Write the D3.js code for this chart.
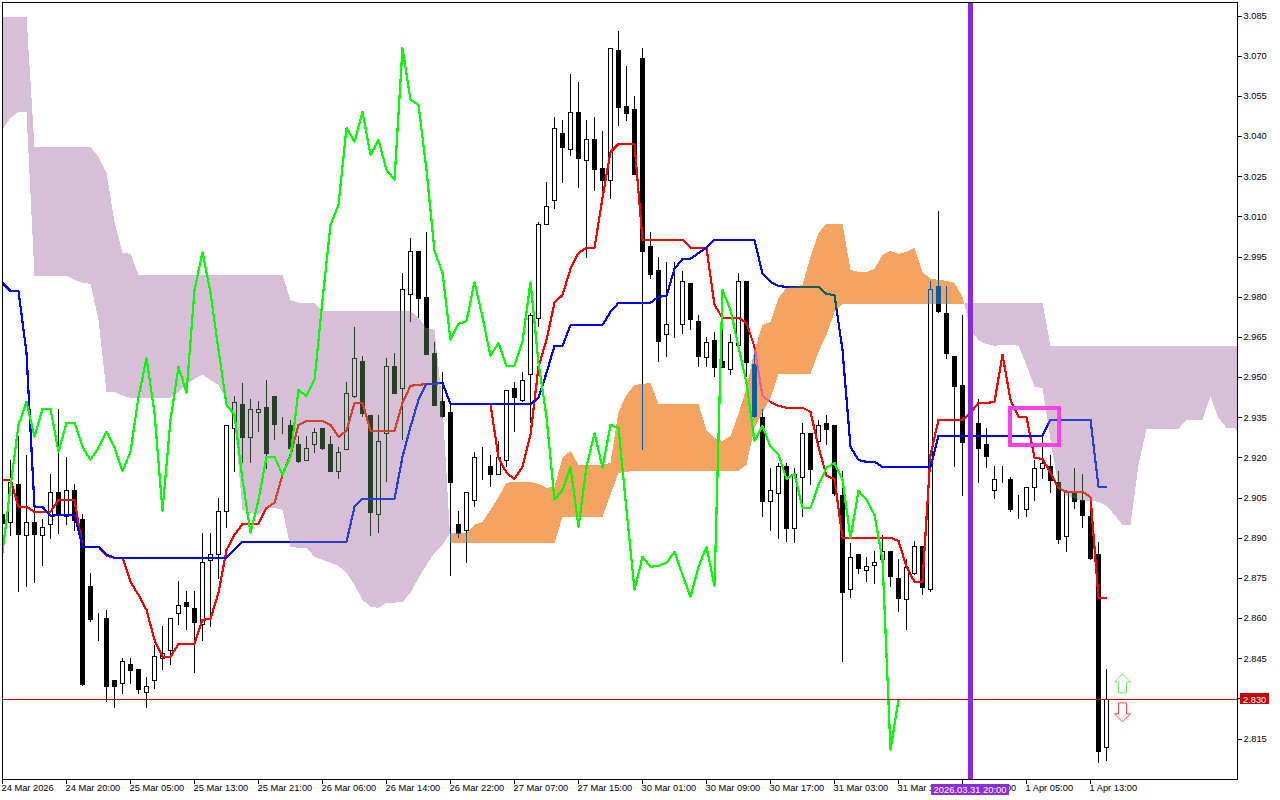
<!DOCTYPE html>
<html>
<head>
<meta charset="utf-8">
<title>Ichimoku candlestick chart</title>
<script src="https://cdn.jsdelivr.net/npm/d3@7"></script>
<style>
html,body{margin:0;padding:0;background:#fff}
svg{display:block}
text{font-family:"Liberation Sans",Arial,sans-serif;font-size:9.3px;fill:#000}
</style>
</head>
<body>
<div id="chart"></div>
<script>
const opens=[2.8991,2.8961,2.9103,2.8912,2.8961,2.8912,2.8953,2.9073,2.8983,2.9080,
2.8972,2.8722,2.8591,2.8602,2.8371,2.8360,2.8431,2.8412,2.8326,2.8371,
2.8453,2.8483,2.8621,2.8662,2.8640,2.8580,2.8819,2.8841,2.9002,2.9312,
2.9401,2.9278,2.9372,2.9390,2.9431,2.9331,2.9323,2.9252,2.9192,2.9252,
2.9312,2.9252,2.9151,2.9233,2.9431,2.9562,2.9361,2.8991,2.9293,2.9543,
2.9461,2.9812,2.9973,2.9801,2.9592,2.9413,2.9372,2.8953,2.8931,2.9043,
2.9204,2.9170,2.9140,2.9192,2.9461,2.9416,2.9513,2.9723,3.0074,3.0163,
3.0413,3.0354,3.0492,3.0313,3.0391,3.0283,3.0238,3.0723,3.0514,3.0503,
3.0693,2.9992,2.9902,2.9663,2.9711,2.9700,2.9853,2.9711,2.9577,2.9640,
2.9562,2.9532,2.9622,2.9861,2.9551,2.9353,2.9039,2.9069,2.9170,2.8938,
2.9129,2.9293,2.9263,2.9331,2.9323,2.9062,2.8711,2.8841,2.8782,2.8800,
2.8823,2.8853,2.8752,2.8673,2.8770,2.8871,2.8711,2.9842,2.9741,2.9581,
2.9472,2.9260,2.9331,2.9252,2.9080,2.9140,2.9121,2.9013,2.9009,2.9092,
2.9163,2.9170,2.9110,2.8909,2.9073,2.9043,2.8983,2.8841,2.8121];
const closes=[2.8957,2.9110,2.8916,2.8961,2.8916,2.8942,2.9073,2.8987,2.9080,2.8968,
2.8356,2.8599,2.8591,2.8349,2.8349,2.8442,2.8408,2.8337,2.8349,2.8461,
2.8472,2.8602,2.8651,2.8647,2.8587,2.8811,2.8841,2.9002,2.9323,2.9409,
2.9278,2.9383,2.9383,2.9218,2.9327,2.9331,2.9237,2.9189,2.9237,2.9297,
2.9237,2.9151,2.9222,2.9443,2.9573,2.9368,2.8998,2.9263,2.9543,2.9443,
2.9831,2.9973,2.9797,2.9588,2.9398,2.9357,2.9110,2.8920,2.9073,2.9204,
2.9204,2.9140,2.9204,2.9454,2.9428,2.9491,2.9734,3.0074,3.0141,3.0432,
3.0361,3.0492,3.0320,3.0391,3.0279,3.0238,3.0731,3.0510,3.0488,3.0260,
2.9973,2.9887,2.9637,2.9700,2.9711,2.9861,2.9719,2.9581,2.9633,2.9540,
2.9540,2.9633,2.9861,2.9558,2.9357,2.9039,2.9080,2.9170,2.8938,2.9140,
2.9293,2.9159,2.9323,2.9308,2.9069,2.8700,2.8830,2.8789,2.8797,2.8811,
2.8853,2.8759,2.8677,2.8793,2.8871,2.8718,2.9831,2.9749,2.9592,2.9469,
2.9260,2.9331,2.9237,2.9207,2.9121,2.9140,2.9009,2.9013,2.9092,2.9163,
2.9181,2.9118,2.8897,2.9077,2.9039,2.8987,2.8826,2.8106,2.8300];
const highs=[2.9006,2.9192,2.9282,2.9211,2.9043,2.8972,2.9140,2.9383,2.9204,2.9103,
2.8991,2.8770,2.8621,2.8632,2.8371,2.8453,2.8453,2.8412,2.8382,2.8502,
2.8572,2.8602,2.8740,2.8703,2.8703,2.8920,2.8920,2.9050,2.9323,2.9431,
2.9480,2.9420,2.9413,2.9491,2.9431,2.9353,2.9342,2.9282,2.9282,2.9312,
2.9312,2.9282,2.9241,2.9484,2.9689,2.9581,2.9361,2.9361,2.9573,2.9592,
2.9891,3.0022,2.9973,3.0044,2.9633,2.9521,2.9405,2.9002,2.9073,2.9222,
2.9241,2.9211,2.9263,2.9454,2.9484,2.9521,2.9741,3.0081,3.0231,3.0473,
3.0462,3.0634,3.0604,3.0462,3.0473,3.0421,3.0731,3.0794,3.0664,3.0552,
3.0731,3.0044,2.9950,2.9932,2.9932,2.9898,2.9853,2.9734,2.9652,2.9670,
2.9689,2.9663,2.9891,2.9861,2.9596,2.9383,2.9163,2.9181,2.9181,2.9163,
2.9331,2.9293,2.9342,2.9361,2.9323,2.9151,2.8882,2.8841,2.8830,2.8853,
2.8912,2.8853,2.8823,2.8823,2.8890,2.8871,2.9861,3.0122,2.9842,2.9581,
2.9734,2.9361,2.9420,2.9312,2.9170,2.9170,2.9129,2.9062,2.9092,2.9192,
2.9286,2.9211,2.9151,2.9080,2.9163,2.9140,2.9009,2.8886,2.8412];
const lows=[2.8938,2.8909,2.8700,2.8718,2.8733,2.8797,2.8897,2.8916,2.8950,2.8927,
2.8349,2.8587,2.8517,2.8289,2.8266,2.8319,2.8356,2.8319,2.8266,2.8337,
2.8408,2.8427,2.8576,2.8558,2.8397,2.8517,2.8569,2.8748,2.8938,2.9148,
2.9181,2.9181,2.9297,2.9159,2.9267,2.9290,2.9233,2.9181,2.9189,2.9218,
2.9230,2.9148,2.9121,2.9233,2.9424,2.9353,2.8909,2.8920,2.9110,2.9439,
2.9267,2.9708,2.9723,2.9585,2.9394,2.9349,2.8759,2.8901,2.8808,2.9017,
2.9118,2.9092,2.9140,2.9166,2.9297,2.9409,2.9331,2.9689,3.0074,3.0130,
3.0227,3.0328,3.0208,2.9947,3.0197,3.0189,3.0167,3.0440,3.0458,3.0257,
2.9230,2.9868,2.9558,2.9577,2.9648,2.9663,2.9678,2.9540,2.9540,2.9502,
2.9540,2.9510,2.9622,2.9502,2.9349,2.8979,2.8927,2.8897,2.8886,2.8882,
2.8979,2.9099,2.9260,2.9248,2.9058,2.8438,2.8677,2.8767,2.8737,2.8729,
2.8823,2.8718,2.8625,2.8558,2.8763,2.8688,2.8700,2.9741,2.9570,2.9166,
2.9058,2.9230,2.9107,2.9163,2.9047,2.9107,2.8998,2.8972,2.8979,2.9039,
2.9121,2.9069,2.8879,2.8849,2.9009,2.8938,2.8819,2.8061,2.8068];
const tenkan=[2.9118,2.9118,2.9017,2.9017,2.8998,2.8998,2.8998,2.9043,2.9043,2.9043,
2.8868,2.8868,2.8868,2.8834,2.8827,2.8827,2.8737,2.8688,2.8632,2.8520,
2.8457,2.8457,2.8505,2.8505,2.8505,2.8595,2.8599,2.8696,2.8856,2.8912,
2.8953,2.8953,2.8953,2.9013,2.9032,2.9137,2.9211,2.9323,2.9338,2.9338,
2.9338,2.9323,2.9278,2.9301,2.9405,2.9405,2.9301,2.9301,2.9301,2.9301,
2.9405,2.9469,2.9472,2.9476,2.9476,2.9480,2.9401,2.9401,2.9401,2.9401,
2.9401,2.9401,2.9200,2.9144,2.9121,2.9166,2.9286,2.9540,2.9640,2.9779,
2.9808,2.9906,2.9965,2.9984,2.9984,3.0171,3.0342,3.0372,3.0372,3.0372,
3.0014,3.0014,3.0014,3.0014,3.0014,3.0014,2.9984,2.9984,2.9984,2.9771,
2.9723,2.9723,2.9723,2.9704,2.9614,2.9431,2.9409,2.9394,2.9387,2.9387,
2.9387,2.9372,2.9241,2.9133,2.9121,2.8901,2.8901,2.8901,2.8901,2.8901,
2.8901,2.8901,2.8890,2.8793,2.8737,2.8737,2.9211,2.9342,2.9342,2.9342,
2.9342,2.9368,2.9405,2.9405,2.9409,2.9585,2.9416,2.9353,2.9353,2.9200,
2.9196,2.9144,2.9088,2.9073,2.9073,2.9073,2.9054,2.8677,2.8677];
const kijun=[2.9853,2.9823,2.9823,2.9592,2.9017,2.9017,2.8983,2.8987,2.8987,2.8987,
2.8868,2.8868,2.8868,2.8838,2.8827,2.8827,2.8827,2.8827,2.8827,2.8827,
2.8827,2.8827,2.8827,2.8827,2.8827,2.8827,2.8827,2.8827,2.8827,2.8856,
2.8886,2.8886,2.8886,2.8886,2.8886,2.8886,2.8886,2.8886,2.8886,2.8886,
2.8886,2.8886,2.8886,2.8886,2.9017,2.9047,2.9047,2.9047,2.9047,2.9047,
2.9204,2.9316,2.9416,2.9476,2.9476,2.9480,2.9401,2.9401,2.9401,2.9401,
2.9401,2.9401,2.9401,2.9401,2.9401,2.9401,2.9401,2.9424,2.9517,2.9618,
2.9618,2.9696,2.9696,2.9696,2.9696,2.9696,2.9745,2.9779,2.9779,2.9779,
2.9779,2.9779,2.9801,2.9805,2.9906,2.9943,2.9943,2.9965,2.9984,3.0014,
3.0014,3.0014,3.0014,3.0014,3.0014,2.9887,2.9857,2.9842,2.9838,2.9838,
2.9838,2.9838,2.9838,2.9812,2.9808,2.9603,2.9241,2.9192,2.9185,2.9185,
2.9166,2.9166,2.9166,2.9166,2.9166,2.9166,2.9166,2.9282,2.9282,2.9282,
2.9282,2.9282,2.9282,2.9282,2.9282,2.9282,2.9282,2.9282,2.9282,2.9282,
2.9282,2.9342,2.9342,2.9342,2.9342,2.9342,2.9342,2.9092,2.9092];
const chikou=[2.8845,2.9092,2.9323,2.9409,2.9278,2.9383,2.9383,2.9222,2.9331,2.9331,
2.9241,2.9192,2.9237,2.9297,2.9237,2.9151,2.9222,2.9428,2.9573,2.9368,
2.9002,2.9342,2.9540,2.9443,2.9827,2.9969,2.9816,2.9603,2.9398,2.9361,
2.9118,2.8920,2.9043,2.9204,2.9204,2.9137,2.9204,2.9454,2.9431,2.9491,
2.9790,3.0070,3.0145,3.0432,3.0380,3.0492,3.0331,3.0387,3.0275,3.0238,
3.0731,3.0537,3.0518,3.0275,2.9973,2.9891,2.9640,2.9700,2.9711,2.9857,
2.9726,2.9581,2.9629,2.9543,2.9543,2.9633,2.9857,2.9555,2.9353,2.9043,
2.9080,2.9166,2.8942,2.9166,2.9293,2.9163,2.9323,2.9312,2.9006,2.8707,
2.8830,2.8793,2.8797,2.8808,2.8849,2.8763,2.8681,2.8793,2.8867,2.8722,
2.9827,2.9752,2.9614,2.9480,2.9263,2.9319,2.9241,2.9211,2.9121,2.9140,
2.9013,2.9013,2.9099,2.9163,2.9181,2.9118,2.8901,2.9077,2.9043,2.8987,
2.8819,2.8110,2.8296];
const spanA=[3.0425,3.0469,3.0492,3.0492,2.9879,2.9879,2.9879,2.9879,2.9879,2.9865,
2.9853,2.9850,2.9715,2.9446,2.9446,2.9431,2.9424,2.9424,2.9424,2.9424,
2.9424,2.9424,2.9446,2.9472,2.9495,2.9510,2.9491,2.9472,2.9416,2.9331,
2.9006,2.8994,2.8987,2.9013,2.9013,2.9006,2.8868,2.8864,2.8864,2.8830,
2.8819,2.8808,2.8797,2.8770,2.8726,2.8670,2.8643,2.8640,2.8659,2.8659,
2.8662,2.8696,2.8752,2.8800,2.8845,2.8875,2.8920,2.8920,2.8920,2.8950,
2.8961,2.9006,2.9054,2.9107,2.9110,2.9110,2.9110,2.9103,2.9088,2.9092,
2.9200,2.9226,2.9174,2.9174,2.9174,2.9174,2.9181,2.9372,2.9435,2.9472,
2.9476,2.9480,2.9401,2.9401,2.9401,2.9401,2.9401,2.9401,2.9304,2.9274,
2.9263,2.9282,2.9364,2.9461,2.9603,2.9696,2.9708,2.9797,2.9835,2.9838,
2.9846,2.9950,3.0040,3.0074,3.0074,3.0074,2.9902,2.9894,2.9894,2.9906,
2.9958,2.9973,2.9962,2.9969,2.9984,2.9894,2.9868,2.9865,2.9861,2.9853,
2.9801,2.9678,2.9640,2.9625,2.9618,2.9622,2.9622,2.9618,2.9547,2.9465,
2.9461,2.9267,2.9092,2.9058,2.9047,2.9039,2.9039,2.9036,2.9021,2.8987,
2.8950,2.8950,2.9174,2.9308,2.9308,2.9308,2.9308,2.9308,2.9342,2.9342,
2.9342,2.9428,2.9349,2.9312,2.9312,2.9267];
const spanB=[3.0847,3.0847,3.0847,3.0847,3.0361,3.0361,3.0361,3.0361,3.0361,3.0361,
3.0361,3.0361,3.0324,3.0264,3.0081,2.9965,2.9962,2.9883,2.9883,2.9883,
2.9883,2.9883,2.9883,2.9883,2.9883,2.9883,2.9883,2.9883,2.9883,2.9883,
2.9883,2.9883,2.9883,2.9883,2.9883,2.9883,2.9790,2.9779,2.9779,2.9779,
2.9749,2.9749,2.9749,2.9749,2.9749,2.9749,2.9749,2.9749,2.9749,2.9749,
2.9749,2.9749,2.9723,2.9685,2.9678,2.9398,2.8882,2.8882,2.8882,2.8882,
2.8882,2.8882,2.8882,2.8882,2.8882,2.8882,2.8882,2.8882,2.8882,2.8882,
2.8979,2.8979,2.8979,2.8979,2.8979,2.8979,2.9062,2.9144,2.9148,2.9151,
2.9151,2.9151,2.9151,2.9151,2.9151,2.9151,2.9151,2.9151,2.9151,2.9151,
2.9151,2.9151,2.9151,2.9174,2.9312,2.9368,2.9424,2.9513,2.9513,2.9513,
2.9513,2.9513,2.9596,2.9659,2.9745,2.9775,2.9775,2.9775,2.9775,2.9775,
2.9775,2.9775,2.9775,2.9775,2.9775,2.9775,2.9775,2.9775,2.9775,2.9775,
2.9775,2.9779,2.9779,2.9779,2.9779,2.9779,2.9779,2.9779,2.9779,2.9779,
2.9779,2.9618,2.9618,2.9618,2.9618,2.9618,2.9618,2.9618,2.9618,2.9618,
2.9618,2.9618,2.9618,2.9618,2.9618,2.9618,2.9618,2.9618,2.9618,2.9618,
2.9618,2.9618,2.9618,2.9618,2.9618,2.9618];
const priceTicks=[3.085,3.070,3.055,3.040,3.025,3.010,2.995,2.980,2.965,2.950,2.935,2.920,2.905,2.890,2.875,2.860,2.845,2.830,2.815];
const timeTickBars=[0,8,16,24,32,40,48,56,64,72,80,88,96,104,112,120,128,136];
const timeTickLabels=["24 Mar 2026","24 Mar 20:00","25 Mar 05:00","25 Mar 13:00","25 Mar 21:00","26 Mar 06:00","26 Mar 14:00","26 Mar 22:00","27 Mar 07:00","27 Mar 15:00","30 Mar 01:00","30 Mar 09:00","30 Mar 17:00","31 Mar 03:00","31 Mar 11:00","31 Mar 19:00","1 Apr 05:00","1 Apr 13:00"];
const lastPrice=2.8298;
const markerBar=121;
const markerLabel="2026.03.31 20:00";
const boxBars=[125.94,132.06];
const boxPrices=[2.9387,2.9248];
const arrowBar=140;
const arrowUpPrice=2.8393;
const arrowDownPrice=2.8214;

const W=1280,H=800,L=3,R=1237,T=3,B=779;
const FONT='"Liberation Sans",Arial,sans-serif';
const x=d3.scaleLinear().domain([0,1]).range([2.5,10.5]);
const y=d3.scaleLinear().domain([3.085,2.815]).range([16,739]);
const svg=d3.select("#chart").append("svg").attr("width",W).attr("height",H);
svg.append("rect").attr("width",W).attr("height",H).attr("fill","#fff");
svg.append("defs").append("clipPath").attr("id","plot").append("rect")
  .attr("x",L).attr("y",T).attr("width",R-L).attr("height",B-T);
const plot=svg.append("g").attr("clip-path","url(#plot)");
plot.append("rect").attr("x",0).attr("y",0).attr("width",W).attr("height",H).attr("fill","#fff");

const candles=opens.map((o,i)=>({i,o,h:highs[i],l:lows[i],c:closes[i]}));
const cg=plot.append("g").attr("shape-rendering","crispEdges");
cg.selectAll("line").data(candles).join("line")
  .attr("x1",d=>x(d.i)).attr("x2",d=>x(d.i))
  .attr("y1",d=>Math.round(y(d.h))).attr("y2",d=>Math.round(y(d.l)))
  .attr("stroke","#000").attr("stroke-width",1);
cg.selectAll("rect").data(candles).join("rect")
  .attr("x",d=>x(d.i)-2).attr("width",4)
  .attr("y",d=>Math.round(y(Math.max(d.o,d.c)))+0.5)
  .attr("height",d=>Math.round(y(Math.min(d.o,d.c)))-Math.round(y(Math.max(d.o,d.c))))
  .attr("fill",d=>d.c>=d.o?"#fff":"#000").attr("stroke","#000").attr("stroke-width",1);

const lineGen=d3.line().x((d,i)=>x(i)).y(d=>y(d));
function drawLine(parent,vals,col){
  parent.append("path").datum(vals).attr("d",lineGen).attr("fill","none")
    .attr("stroke",col).attr("stroke-width",2.2).attr("stroke-linejoin","round")
    .attr("shape-rendering","crispEdges");
}
drawLine(plot,tenkan,"#ff0000");
drawLine(plot,kijun,"#0000ff");

const cloud=[];
spanA.forEach((a,i)=>{
  const b=spanB[i];
  cloud.push({i,a,b});
  if(i<spanA.length-1){
    const na=spanA[i+1],nb=spanB[i+1];
    if((a-b)*(na-nb)<0){
      const t=(a-b)/((a-b)-(na-nb));
      cloud.push({i:i+t,a:a+t*(na-a),b:b+t*(nb-b)});
    }
  }
});
const cloudG=plot.append("g").style("mix-blend-mode","difference").attr("shape-rendering","crispEdges");
cloudG.append("path").datum(cloud)
  .attr("d",d3.area().x(d=>x(d.i)).y0(d=>y(d.b)).y1(d=>y(Math.min(d.a,d.b))))
  .attr("fill","#274027");
cloudG.append("path").datum(cloud)
  .attr("d",d3.area().x(d=>x(d.i)).y0(d=>y(d.a)).y1(d=>y(Math.min(d.a,d.b))))
  .attr("fill","#0b5b9f");

drawLine(plot,chikou,"#00ff00");

plot.append("line").attr("x1",L).attr("x2",R).attr("y1",Math.floor(y(lastPrice))+0.5).attr("y2",Math.floor(y(lastPrice))+0.5)
  .attr("stroke","#c00000").attr("stroke-width",1).attr("shape-rendering","crispEdges");
plot.append("line").attr("x1",x(markerBar)).attr("x2",x(markerBar)).attr("y1",T).attr("y2",B)
  .attr("stroke","#8a2be2").attr("stroke-width",5).attr("shape-rendering","crispEdges");
plot.append("rect").attr("x",x(boxBars[0])).attr("width",x(boxBars[1])-x(boxBars[0]))
  .attr("y",y(boxPrices[0])).attr("height",y(boxPrices[1])-y(boxPrices[0]))
  .attr("fill","none").attr("stroke","#ff3fe8").attr("stroke-width",4).attr("shape-rendering","crispEdges");

const upShape="M0,0L8,8H4V19H-4V8H-8Z";
const downShape="M0,0L8,-8H4V-19H-4V-8H-8Z";
plot.append("path").attr("d",upShape).attr("transform",`translate(${x(arrowBar)},${y(arrowUpPrice)})`)
  .attr("fill","#fff").attr("stroke","#70e860").attr("stroke-width",1);
plot.append("path").attr("d",downShape).attr("transform",`translate(${x(arrowBar)},${y(arrowDownPrice)})`)
  .attr("fill","#fff").attr("stroke","#ff4040").attr("stroke-width",1);

svg.append("rect").attr("x",2.5).attr("y",2.5).attr("width",R-2).attr("height",B-2.5)
  .attr("fill","none").attr("stroke","#000").attr("stroke-width",1).attr("shape-rendering","crispEdges");

const yAxis=d3.axisRight(y).tickValues(priceTicks).tickFormat(d3.format(".3f")).tickSize(4).tickPadding(2).offset(0);
const yG=svg.append("g").attr("transform",`translate(${R+0.5},0)`).call(yAxis);
yG.select(".domain").remove();
yG.selectAll("line").attr("stroke","#000").attr("shape-rendering","crispEdges");
yG.selectAll("text").style("font-family",FONT).style("font-size","9.3px");

const xAxis=d3.axisBottom(x).tickValues(timeTickBars).tickFormat((d,i)=>timeTickLabels[i]).tickSize(4).tickPadding(2).offset(0);
const xG=svg.append("g").attr("transform",`translate(0,${B+0.5})`).call(xAxis);
xG.select(".domain").remove();
xG.selectAll("line").attr("stroke","#000").attr("shape-rendering","crispEdges");
xG.selectAll("text").attr("text-anchor","start").attr("dx","-1").attr("y",5)
  .style("font-family",FONT).style("font-size","9.3px");

svg.append("rect").attr("x",R+3).attr("y",Math.round(y(lastPrice))-6).attr("width",29).attr("height",11).attr("fill","#c80000");
svg.append("text").attr("x",R+6).attr("y",y(lastPrice)+3.2).style("fill","#fff").text(d3.format(".3f")(lastPrice));

svg.append("rect").attr("x",x(markerBar)-39.5).attr("y",784).attr("width",78).attr("height",11).attr("fill","#8a2be2");
svg.append("text").attr("x",x(markerBar)-0.5).attr("y",793).attr("text-anchor","middle").style("fill","#fff").style("font-size","9.4px").text(markerLabel);
</script>
</body>
</html>
